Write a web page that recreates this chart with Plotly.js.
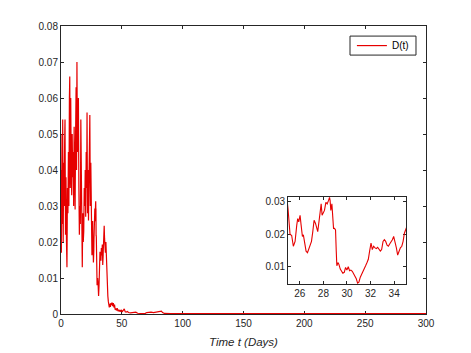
<!DOCTYPE html>
<html>
<head>
<meta charset="utf-8">
<script src="https://cdn.plot.ly/plotly-3.0.1.min.js"></script>
<style>html,body{margin:0;padding:0;background:#fff;}#chart{width:471px;height:353px;}</style>
</head>
<body>
<div id="chart"></div>
<script>
// Time (days)
var timeDays = [
 0, 0.3, 0.7, 1.0, 1.4, 1.8, 2.2, 2.6, 3.0, 3.3, 3.7, 4.1, 4.5, 4.9, 5.3, 5.7, 6.1, 6.5, 6.9, 7.2,
 7.6, 8.0, 8.4, 8.8, 9.2, 9.6, 10.0, 10.4, 10.8, 11.2, 11.6, 12.0, 12.4, 12.8, 13.1, 13.5, 13.9, 14.3, 14.7, 15.1,
 15.5, 15.9, 16.3, 16.7, 17.1, 17.5, 17.9, 18.3, 18.7, 19.1, 19.5, 19.9, 20.3, 20.7, 21.1, 21.4, 21.8, 22.2, 22.6, 23.0,
 23.3, 23.7, 24.1, 24.5, 24.8,
 25.00, 25.17, 25.31, 25.45, 25.60, 25.74, 25.82, 25.91, 26.02, 26.11, 26.22, 26.30, 26.42, 26.53, 26.65, 26.76, 26.87, 26.99,
 27.10, 27.21, 27.33, 27.44, 27.52, 27.64, 27.72, 27.81, 27.89, 28.01, 28.09, 28.21, 28.32, 28.43, 28.52, 28.57, 28.63, 28.72,
 28.80, 28.86, 28.94, 29.03, 29.09, 29.14, 29.23, 29.31, 29.43, 29.54, 29.65, 29.77, 29.88, 29.99, 30.11, 30.22, 30.33, 30.45,
 30.56, 30.67, 30.79, 30.90, 31.01, 31.13, 31.24, 31.35, 31.47, 31.58, 31.70, 31.81, 31.92, 32.04, 32.15, 32.26, 32.38, 32.49,
 32.60, 32.72, 32.83, 32.94, 33.06, 33.17, 33.28, 33.40, 33.51, 33.62, 33.74, 33.85, 33.96, 34.08, 34.19, 34.30, 34.41, 34.53,
 34.65, 34.76, 34.87, 34.99,
 35.2, 35.5, 35.8, 36.1, 36.5, 36.9, 37.3, 37.7, 38.1, 38.5, 38.9, 39.3, 39.7, 40.1, 40.6, 41.0, 41.5, 42.0, 42.5, 43.0,
 43.5, 44.0, 44.5, 45.0, 45.6, 46.2, 46.8, 47.4, 48.0, 48.6, 49.2, 49.8, 50.5, 51.2, 52.0, 52.8, 53.5, 54.5, 55.5, 57,
 58.5, 60, 61.5, 63, 65, 67, 69, 70.5, 72, 74, 76, 78, 80, 81.5, 82.5, 83.5, 85, 90, 100, 150, 200, 250, 300
];
// D(t)
var dValues = [
 0.050, 0.017, 0.040, 0.025, 0.054, 0.020, 0.042, 0.030, 0.048, 0.054, 0.022, 0.038, 0.020, 0.013, 0.035, 0.028, 0.045, 0.030, 0.060, 0.066,
 0.035, 0.060, 0.040, 0.033, 0.050, 0.038, 0.045, 0.030, 0.052, 0.034, 0.029, 0.050, 0.063, 0.040, 0.070, 0.045, 0.055, 0.060, 0.035, 0.022,
 0.030, 0.025, 0.054, 0.030, 0.040, 0.013, 0.028, 0.020, 0.023, 0.035, 0.030, 0.040, 0.027, 0.045, 0.035, 0.056, 0.028, 0.040, 0.026, 0.033,
 0.045, 0.0553, 0.030, 0.042, 0.034,
 0.0278, 0.0200, 0.0196, 0.0163, 0.0178, 0.0228, 0.0248, 0.0238, 0.0258, 0.0228, 0.0193, 0.0198, 0.0173, 0.0148, 0.0143, 0.0153, 0.0168, 0.0178,
 0.0208, 0.0243, 0.0233, 0.0213, 0.0208, 0.0243, 0.0278, 0.0293, 0.0258, 0.0268, 0.0273, 0.0298, 0.0293, 0.0303, 0.0313, 0.0303, 0.0273, 0.0293,
 0.0258, 0.0218, 0.0218, 0.0213, 0.0148, 0.0103, 0.0113, 0.0108, 0.0093, 0.0086, 0.0080, 0.0083, 0.0098, 0.0090, 0.0100, 0.0088, 0.0090, 0.0086,
 0.0078, 0.0073, 0.0063, 0.0050, 0.0053, 0.0068, 0.0078, 0.0086, 0.0098, 0.0103, 0.0113, 0.0123, 0.0148, 0.0173, 0.0153, 0.0163, 0.0158, 0.0156,
 0.0160, 0.0153, 0.0148, 0.0153, 0.0178, 0.0183, 0.0178, 0.0166, 0.0163, 0.0170, 0.0176, 0.0183, 0.0193, 0.0178, 0.0158, 0.0136, 0.0148, 0.0158,
 0.0163, 0.0178, 0.0203, 0.0218,
 0.0235, 0.0245, 0.0210, 0.0190, 0.0170, 0.0200, 0.0150, 0.0110, 0.0080, 0.0050, 0.0035, 0.0022, 0.0018, 0.0028, 0.0020, 0.0030, 0.0025, 0.0032, 0.0022, 0.0030,
 0.0018, 0.0026, 0.0012, 0.0015, 0.0010, 0.0016, 0.0008, 0.0012, 0.0007, 0.0011, 0.0006, 0.0010, 0.0007, 0.0012, 0.0014, 0.0006, 0.0005, 0.0007, 0.0004, 0.0003,
 0.0004, 0.0006, 0.0005, 0.0002, 0.0001, 0.0002, 0.0001, 0.0004, 0.0005, 0.0005, 0.0004, 0.0005, 0.0005, 0.0006, 0.0008, 0.0004, 0.00015, 0.00012, 0.00012, 0.00012, 0.00012, 0.00012, 0.00012
];
var seriesName = 'D(t)';
var xTitle = 'Time t (Days)';
var mainYTicks = [0, 0.01, 0.02, 0.03, 0.04, 0.05, 0.06, 0.07, 0.08];
var mainXTicks = [0, 50, 100, 150, 200, 250, 300];
var insetXTicks = [26, 28, 30, 32, 34];
var insetYTicks = [0.01, 0.02, 0.03];

var axisColor = '#262626';
var fontFam = '"Liberation Sans", Arial, Helvetica, sans-serif';

var traces = [
  {x: timeDays, y: dValues, type: 'scatter', mode: 'lines', name: seriesName,
   line: {color: '#e60000', width: 1.2}, xaxis: 'x', yaxis: 'y', showlegend: true},
  {x: timeDays, y: dValues, type: 'scatter', mode: 'lines', name: seriesName,
   line: {color: '#e60000', width: 1.1}, xaxis: 'x2', yaxis: 'y2', showlegend: false}
];

function ax(extra) {
  var base = {showgrid: false, zeroline: false, showline: true, linecolor: axisColor, linewidth: 1,
    mirror: 'ticks', ticks: 'inside', ticklen: 3, tickcolor: axisColor, tickwidth: 1,
    tickfont: {family: fontFam, size: 10, color: axisColor}, layer: 'below traces'};
  for (var k in extra) base[k] = extra[k];
  return base;
}

var layout = {
  width: 471, height: 353,
  margin: {l: 61, r: 45, t: 26, b: 39, pad: 0},
  paper_bgcolor: '#ffffff', plot_bgcolor: '#ffffff',
  font: {family: fontFam, size: 10, color: axisColor},
  showlegend: true,
  legend: {x: 0.797, y: 0.932, xanchor: 'left', yanchor: 'middle', bgcolor: 'rgba(0,0,0,0)',
    borderwidth: 0, font: {family: fontFam, size: 10, color: '#000'},
    itemwidth: 30, tracegroupgap: 0},
  shapes: [
    {type: 'rect', xref: 'paper', yref: 'paper', x0: 0.7918, x1: 0.9726, y0: 0.899, y1: 0.965,
     line: {color: axisColor, width: 1}, fillcolor: '#ffffff', layer: 'above'}
  ],
  xaxis: ax({domain: [0, 1], range: [0, 300], tickvals: mainXTicks, ticktext: mainXTicks.map(String),
    title: {text: '<i>' + xTitle + '</i>', font: {family: fontFam, size: 11.5, color: axisColor}, standoff: 9}}),
  yaxis: ax({domain: [0, 1], range: [0, 0.08], tickvals: mainYTicks, ticktext: mainYTicks.map(String)}),
  xaxis2: ax({domain: [0.622, 0.945], range: [25, 35], anchor: 'y2', tickvals: insetXTicks, ticktext: insetXTicks.map(String)}),
  yaxis2: ax({domain: [0.104, 0.406], range: [0.0047, 0.0314], anchor: 'x2', tickvals: insetYTicks, ticktext: insetYTicks.map(String)})
};

Plotly.newPlot('chart', traces, layout, {staticPlot: true, displayModeBar: false});
</script>
</body>
</html>
